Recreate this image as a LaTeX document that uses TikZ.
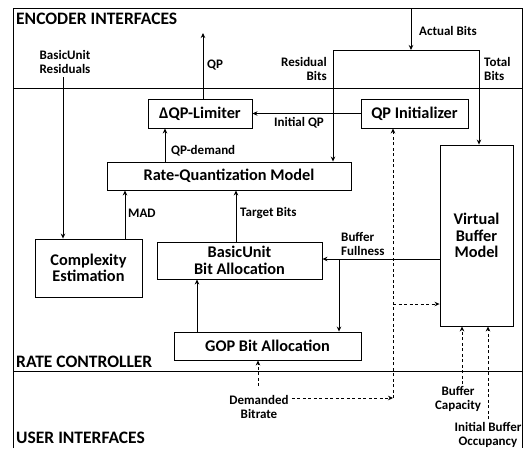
\documentclass[tikz,border=0pt]{standalone}
\usepackage{fontspec}
\setmainfont{Carlito}
\usetikzlibrary{arrows.meta}
\begin{document}
\begin{tikzpicture}[x=1pt,y=-1pt,
  box/.style={draw, line width=0.9pt, fill=white, inner sep=0pt, align=center,
    font=\bfseries\fontsize{16.3}{16.5}\selectfont},
  lbl/.style={font=\bfseries\fontsize{13}{14}\selectfont, inner sep=0pt, align=center},
  ttl/.style={font=\bfseries\fontsize{17.5}{18}\selectfont, inner sep=0pt, anchor=west},
  conn/.style={line width=0.8pt, -{Stealth[length=5pt,width=4.5pt]}},
  dconn/.style={conn, dash pattern=on 3pt off 2.5pt},
  ln/.style={line width=0.8pt}
]
\useasboundingbox (0,0) rectangle (529,448);
% frame and bands
\draw[ln] (13,448) -- (13,8) -- (522,8) -- (522,448);
\draw[ln] (13,88) -- (522,88);
\draw[ln] (13,371) -- (522,371);
\node[ttl] (enc) at (16,19) {ENCODER INTERFACES};
\node[ttl] (rc) at (16,362) {RATE CONTROLLER};
\node[ttl] (ui) at (16,438) {USER INTERFACES};

% boxes
\node[box, minimum width=104pt, minimum height=29pt] (dqp) at (200,113.5) {ΔQP-Limiter};
\node[box, minimum width=107pt, minimum height=29pt] (qpi) at (414.5,113.5) {QP Initializer};
\node[box, minimum width=244pt, minimum height=28pt] (rq) at (229,176) {Rate-Quantization Model};
\node[box, minimum width=107pt, minimum height=58pt] (ce) at (88.5,268) {Complexity\\Estimation};
\node[box, minimum width=165pt, minimum height=37pt] (bu) at (239.5,260.5) {BasicUnit\\Bit Allocation};
\node[box, minimum width=187pt, minimum height=28pt] (gop) at (267.5,346) {GOP Bit Allocation};
\node[box, minimum width=73pt, minimum height=181pt] (vbm) at (476.5,235.5) {Virtual\\Buffer\\Model};

% BasicUnit residuals
\node[lbl] (bur) at (65,62) {BasicUnit\\Residuals};
\coordinate (burs) at (63,77);
\draw[conn] (burs) -- (burs |- ce.north);

% QP out
\coordinate (qpout) at (203,33);
\draw[conn] (qpout |- dqp.north) -- (qpout);
\node[lbl, anchor=west] (qpl) at (207,65) {QP};

% Actual bits
\coordinate (abin) at (411,8);
\coordinate (abj) at (411,50);
\draw[conn] (abin) -- (abj);
\node[lbl, anchor=west] (abl) at (419,31) {Actual Bits};
\coordinate (rbc) at (333,50);
\coordinate (tbc) at (479,50);
\draw[ln] (rbc) -- (tbc);
\draw[conn] (rbc) -- (rbc |- rq.north);
\draw[conn] (tbc) -- (tbc |- vbm.north);
\node[lbl, align=right, anchor=east] (rbl) at (327,69) {Residual\\Bits};
\node[lbl, align=left, anchor=west] (tbl) at (484,69) {Total\\Bits};

% Initial QP
\draw[conn] (qpi.west) -- (dqp.east);
\node[lbl] (iqp) at (299,123) {Initial QP};

% QP-demand
\coordinate (qpd) at (165,150);
\draw[conn] (qpd |- rq.north) -- (qpd |- dqp.south);
\node[lbl, anchor=west] (qpdl) at (171,151) {QP-demand};

% MAD
\coordinate (mad) at (125,213);
\draw[conn] (mad |- ce.north) -- (mad |- rq.south);
\node[lbl, anchor=west] (madl) at (128,213) {MAD};

% Target bits
\coordinate (tb) at (236,213);
\draw[conn] (tb |- bu.north) -- (tb |- rq.south);
\node[lbl, anchor=west] (tbl2) at (240,213) {Target Bits};

% Buffer fullness
\coordinate (bfy) at (339,259);
\draw[conn] (bfy -| vbm.west) -- (bfy -| bu.east);
\draw[conn] (bfy) -- (bfy |- gop.north);
\node[lbl, align=left, anchor=west] (bfl) at (341,244) {Buffer\\Fullness};

% GOP -> BasicUnit
\coordinate (gb) at (197,300);
\draw[conn] (gb |- gop.north) -- (gb |- bu.south);

% Demanded bitrate
\node[lbl] (dem) at (259,407) {Demanded\\Bitrate};
\coordinate (dcorner) at (393,398);
\coordinate (dup) at (258,386);
\draw[dconn] (dup) -- (dup |- gop.south);
\draw[dconn] ([xshift=3pt]dem.east |- dcorner) -- (dcorner);
\draw[dconn] (dcorner) -- (dcorner |- qpi.south);
\coordinate (dbr) at (393,304);
\draw[dconn] (dbr) -- (dbr -| vbm.west);

% Buffer capacity
\node[lbl] (bc) at (458,399) {Buffer\\Capacity};
\coordinate (bcs) at (462,384);
\draw[dconn] (bcs) -- (bcs |- vbm.south);

% Initial buffer occupancy
\node[lbl] (ibo) at (488,435) {Initial Buffer\\Occupancy};
\coordinate (ibs) at (488,419);
\draw[dconn] (ibs) -- (ibs |- vbm.south);
\end{tikzpicture}
\end{document}
